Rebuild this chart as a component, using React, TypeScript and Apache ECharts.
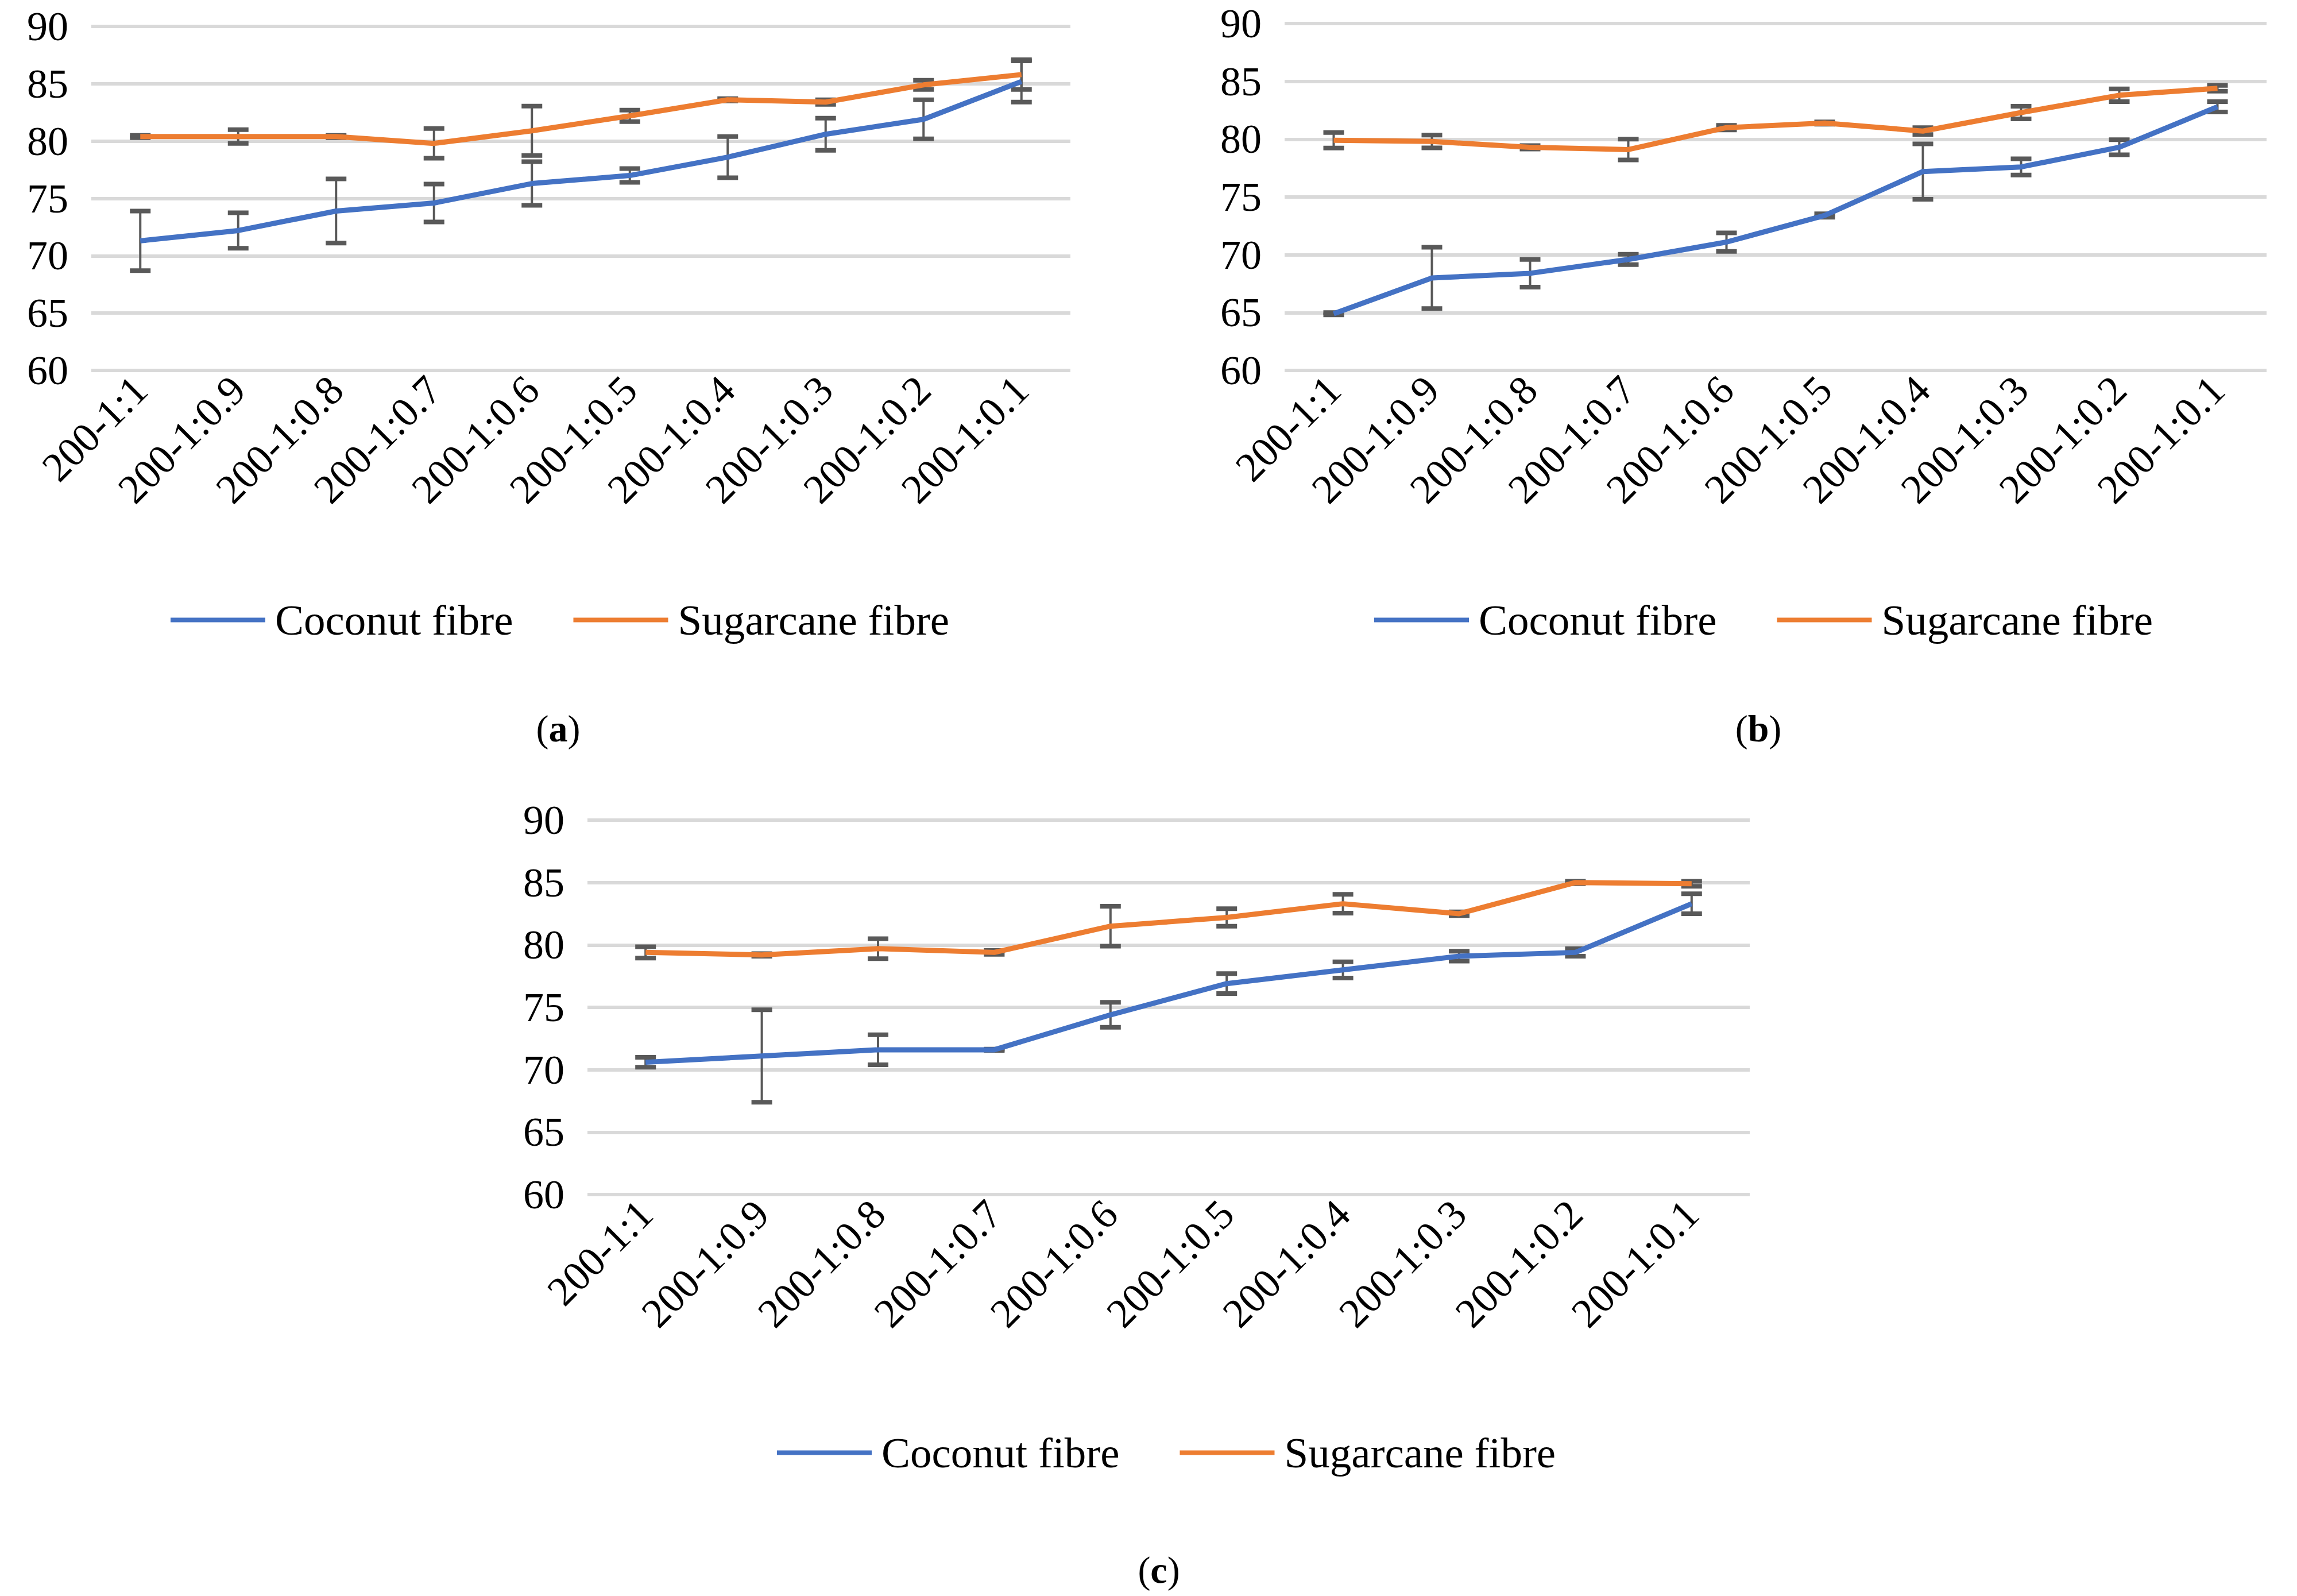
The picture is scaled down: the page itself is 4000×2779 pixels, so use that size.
import React, { useEffect, useRef } from "react";
import * as echarts from "echarts";

const categories = ["200-1:1", "200-1:0.9", "200-1:0.8", "200-1:0.7", "200-1:0.6", "200-1:0.5", "200-1:0.4", "200-1:0.3", "200-1:0.2", "200-1:0.1"];
const yTicks = [60, 65, 70, 75, 80, 85, 90];

const coconutA = [71.3, 72.2, 73.9, 74.6, 76.3, 77.0, 78.6, 80.6, 81.9, 85.2];
const coconutErrA = [2.6, 1.55, 2.8, 1.65, 1.9, 0.6, 1.8, 1.4, 1.7, 1.8];
const sugarA = [80.4, 80.4, 80.4, 79.8, 80.9, 82.2, 83.6, 83.4, 84.9, 85.8];
const sugarErrA = [0.1, 0.6, 0.1, 1.3, 2.15, 0.5, 0.1, 0.2, 0.4, 1.3];

const coconutB = [64.9, 68.0, 68.4, 69.6, 71.1, 73.4, 77.2, 77.6, 79.3, 82.8];
const coconutErrB = [0.1, 2.65, 1.2, 0.45, 0.8, 0.15, 2.4, 0.7, 0.65, 0.45];
const sugarB = [79.9, 79.8, 79.3, 79.1, 81.0, 81.4, 80.7, 82.3, 83.8, 84.4];
const sugarErrB = [0.67, 0.55, 0.15, 0.9, 0.2, 0.1, 0.3, 0.55, 0.55, 0.25];

const coconutC = [70.6, 71.1, 71.6, 71.6, 74.4, 76.9, 78.0, 79.1, 79.4, 83.3];
const coconutErrC = [0.4, 3.7, 1.2, 0.05, 1.0, 0.8, 0.65, 0.4, 0.3, 0.8];
const sugarC = [79.4, 79.2, 79.7, 79.4, 81.5, 82.2, 83.3, 82.5, 85.0, 84.9];
const sugarErrC = [0.45, 0.1, 0.8, 0.15, 1.6, 0.7, 0.75, 0.15, 0.1, 0.2];

const BLUE = "#4472C4";
const ORANGE = "#ED7D31";
const FONT = "Liberation Serif";

const panels = [
  { coconut: coconutA, cErr: coconutErrA, sugar: sugarA, sErr: sugarErrA, grid: { left: 159, top: 46, width: 1705, height: 599 }, legend: { left: 292, top: 1037 }, caption: { x: 972, y: 1268, t: "a" } },
  { coconut: coconutB, cErr: coconutErrB, sugar: sugarB, sErr: sugarErrB, grid: { left: 2237, top: 41, width: 1710, height: 604 }, legend: { left: 2388, top: 1037 }, caption: { x: 3062, y: 1268, t: "b" } },
  { coconut: coconutC, cErr: coconutErrC, sugar: sugarC, sErr: sugarErrC, grid: { left: 1023, top: 1428, width: 2024, height: 652 }, legend: { left: 1348, top: 2487 }, caption: { x: 2018, y: 2733, t: "c" } },
];

function errRender(params: any, api: any) {
  const i = api.value(0);
  const lo = api.coord([i, api.value(1)]);
  const hi = api.coord([i, api.value(2)]);
  const hw = 18;
  const style = { stroke: "#595959", lineWidth: 4 };
  return {
    type: "group",
    children: [
      { type: "line", shape: { x1: lo[0], y1: lo[1], x2: hi[0], y2: hi[1] }, style },
      { type: "line", shape: { x1: lo[0] - hw, y1: lo[1], x2: lo[0] + hw, y2: lo[1] }, style: { stroke: "#595959", lineWidth: 8 } },
      { type: "line", shape: { x1: hi[0] - hw, y1: hi[1], x2: hi[0] + hw, y2: hi[1] }, style: { stroke: "#595959", lineWidth: 8 } },
    ],
  };
}

export default function App() {
  const ref = useRef<HTMLDivElement>(null);
  useEffect(() => {
    const chart = echarts.init(ref.current!, null, { renderer: "svg" });
    const grids: any[] = [];
    const xAxes: any[] = [];
    const yAxes: any[] = [];
    const series: any[] = [];
    const legends: any[] = [];
    const graphics: any[] = [];
    panels.forEach((p, k) => {
      grids.push(p.grid);
      xAxes.push({
        type: "category", gridIndex: k, data: categories, boundaryGap: true,
        axisLine: { show: false }, axisTick: { show: false },
        axisLabel: { rotate: 45, fontFamily: FONT, fontSize: 72, color: "#000", margin: 22, interval: 0 },
      });
      yAxes.push({
        type: "value", gridIndex: k, min: yTicks[0], max: yTicks[yTicks.length - 1], interval: 5,
        axisLabel: { fontFamily: FONT, fontSize: 72, color: "#000", margin: 40 },
        splitLine: { lineStyle: { color: "#D9D9D9", width: 6 } },
      });
      const mk = (name: string, data: number[], color: string) => ({
        type: "line", name, xAxisIndex: k, yAxisIndex: k, data, symbol: "none",
        lineStyle: { color, width: 9 }, itemStyle: { color }, z: 3,
      });
      const eb = (vals: number[], errs: number[]) => ({
        type: "custom", xAxisIndex: k, yAxisIndex: k, renderItem: errRender, z: 2,
        encode: { x: 0, y: [1, 2] },
        data: vals.map((v, i) => [i, v - errs[i], v + errs[i]]),
      });
      series.push(eb(p.coconut, p.cErr), eb(p.sugar, p.sErr));
      series.push(mk("Coconut fibre", p.coconut, BLUE), mk("Sugarcane fibre", p.sugar, ORANGE));
      legends.push({
        data: ["Coconut fibre", "Sugarcane fibre"], left: p.legend.left, top: p.legend.top,
        icon: "rect", itemWidth: 165, itemHeight: 8, itemGap: 105,
        textStyle: { fontFamily: FONT, fontSize: 75, color: "#000", padding: [0, 0, 0, 12] },
      });
      graphics.push({
        type: "text", x: p.caption.x, y: p.caption.y,
        style: {
          text: "({b|" + p.caption.t + "})", fontFamily: FONT, fontSize: 66, fill: "#000",
          rich: { b: { fontFamily: FONT, fontSize: 66, fontWeight: "bold" } },
          align: "center", verticalAlign: "middle",
        },
      });
    });
    chart.setOption({
      animation: false,
      backgroundColor: "#fff",
      grid: grids, xAxis: xAxes, yAxis: yAxes, series, legend: legends, graphic: graphics,
    });
    return () => chart.dispose();
  }, []);
  return <div ref={ref} style={{ position: "fixed", left: 0, top: 0, width: 4000, height: 2779 }} />;
}
